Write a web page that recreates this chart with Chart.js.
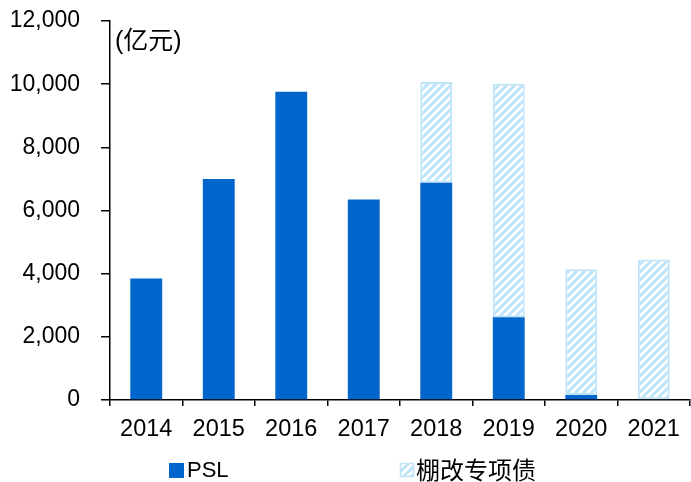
<!DOCTYPE html>
<html><head><meta charset="utf-8">
<script src="https://cdn.jsdelivr.net/npm/chart.js@4/dist/chart.umd.min.js"></script>
<style>html,body{margin:0;padding:0;background:#fff}#wrap{width:691px;height:482px;position:relative}</style>
</head><body><div id="wrap"><canvas id="c" width="691" height="482"></canvas></div>
<script>
const categories = ['2014','2015','2016','2017','2018','2019','2020','2021'];
const pslValues = [3850, 7000, 9760, 6350, 6880, 2620, 160, 0];
const bondValues = [0, 0, 0, 0, 3190, 7390, 3980, 4450];
const yTicks = [0, 2000, 4000, 6000, 8000, 10000, 12000];
const seriesNames = ['PSL', '棚改专项债'];
const unitLabel = '(亿元)';

const BLUE = '#0066CC';
const LIGHT = '#BDE4F8';

function makePattern(){
  const p = document.createElement('canvas');
  p.width = 8; p.height = 8;
  const g = p.getContext('2d');
  g.fillStyle = '#fff'; g.fillRect(0,0,8,8);
  g.strokeStyle = LIGHT; g.lineWidth = 3;
  g.beginPath();
  g.moveTo(-2,10); g.lineTo(10,-2);
  g.moveTo(-6,6); g.lineTo(6,-6);
  g.moveTo(2,14); g.lineTo(14,2);
  g.stroke();
  return document.getElementById('c').getContext('2d').createPattern(p,'repeat');
}
const hatch = makePattern();

const legendPlugin = {
  id: 'customLegend',
  afterDraw(chart){
    const ctx = chart.ctx;
    ctx.save();
    ctx.fillStyle = '#000';
    ctx.font = '25px "Liberation Sans", "Noto Sans CJK SC", sans-serif';
    ctx.textBaseline = 'middle';
    ctx.textAlign = 'left';
    ctx.fillText(unitLabel, 115, 42);
    const y = 470;
    ctx.fillStyle = BLUE;
    ctx.fillRect(169, y-7, 15, 15);
    ctx.fillStyle = '#000';
    ctx.font = '22px "Liberation Sans", sans-serif';
    ctx.fillText(seriesNames[0], 187, y+1);
    ctx.fillStyle = hatch;
    ctx.fillRect(400, y-7, 14, 14);
    ctx.strokeStyle = LIGHT; ctx.lineWidth = 1.5;
    ctx.strokeRect(400.5, y-6.5, 13, 13);
    ctx.fillStyle = '#000';
    ctx.font = '24px "Noto Sans CJK SC", sans-serif';
    ctx.fillText(seriesNames[1], 416, y);
    ctx.restore();
  }
};

new Chart(document.getElementById('c'), {
  type: 'bar',
  data: {
    labels: categories,
    datasets: [
      { label: seriesNames[0], data: pslValues, backgroundColor: BLUE, borderWidth: 0,
        categoryPercentage: 1, barPercentage: 0.44 },
      { label: seriesNames[1], data: bondValues, backgroundColor: hatch, borderColor: LIGHT,
        borderWidth: 2, borderSkipped: false, categoryPercentage: 1, barPercentage: 0.44 }
    ]
  },
  options: {
    responsive: false,
    animation: false,
    devicePixelRatio: 1,
    layout: { padding: { top: 21, right: 1, left: 0, bottom: 0 } },
    plugins: { legend: { display: false }, tooltip: { enabled: false } },
    scales: {
      x: {
        stacked: true,
        border: { display: true, color: '#000', width: 1.5 },
        grid: { display: true, drawOnChartArea: false, drawTicks: true, tickLength: 6, color: '#000', lineWidth: 1.5, offset: true },
        ticks: { color: '#000', font: { family: '"Liberation Sans", sans-serif', size: 23.5 }, padding: 9, maxRotation: 0 },
        afterFit(s){ s.height = 82; s.paddingLeft = 0; s.paddingRight = 0; }
      },
      y: {
        stacked: true,
        min: 0, max: 12000,
        afterBuildTicks(s){ s.ticks = yTicks.map(v => ({ value: v })); },
        border: { display: true, color: '#000', width: 1.5 },
        grid: { display: true, drawOnChartArea: false, drawTicks: true, tickLength: 9, color: '#000', lineWidth: 1.5 },
        ticks: { color: '#000', font: { family: '"Liberation Sans", sans-serif', size: 23 }, padding: 21,
          callback: v => v.toLocaleString('en-US') },
        afterFit(s){ s.width = 110; s.paddingTop = 0; s.paddingBottom = 0; }
      }
    }
  },
  plugins: [legendPlugin]
});
</script></body></html>
